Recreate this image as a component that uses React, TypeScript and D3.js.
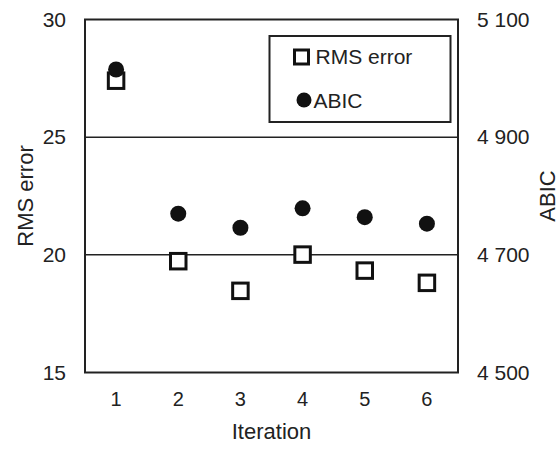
import React from 'react';
import * as d3 from 'd3';

const iterations = ['1', '2', '3', '4', '5', '6'];
const rmsError = [27.4, 19.73, 18.47, 20.01, 19.33, 18.81];
const abic = [5015, 4770, 4746, 4779, 4764, 4753];
const leftTicks = [15, 20, 25, 30];
const rightTicks = [4500, 4700, 4900, 5100];

const W = 560;
const H = 450;
const margin = { top: 19.5, right: 102, bottom: 77.5, left: 85 };
const FONT = 'Liberation Sans, Arial, sans-serif';
const INK = '#222';

// "4900" -> "4 900"
const fmtAbic = (v: number) => {
  const s = String(v);
  return s.slice(0, s.length - 3) + ' ' + s.slice(-3);
};

export default function App() {
  const width = W - margin.left - margin.right;
  const height = H - margin.top - margin.bottom;

  const x = d3.scaleBand().domain(iterations).range([0, width]);
  const yLeft = d3.scaleLinear().domain([15, 30]).range([height, 0]);
  const yRight = d3.scaleLinear().domain([4500, 5100]).range([height, 0]);
  const cx = (d: string) => (x(d) ?? 0) + x.bandwidth() / 2;

  const sq = 15.5;

  return (
    <svg width={W} height={H} style={{ position: 'absolute', left: 0, top: 0, background: '#fff' }}
      fontFamily={FONT}>
      <g transform={`translate(${margin.left},${margin.top})`}>
        {/* gridlines */}
        {[20, 25].map(t => (
          <line key={t} x1={0} x2={width} y1={yLeft(t)} y2={yLeft(t)} stroke={INK} strokeWidth={1.5} />
        ))}
        {/* frame */}
        <rect x={0} y={0} width={width} height={height} fill="none" stroke={INK} strokeWidth={2} />

        {/* left ticks */}
        {leftTicks.map(t => (
          <text key={t} x={-19} y={yLeft(t)} dy="0.34em" textAnchor="end" fontSize={21} fill={INK}>{t}</text>
        ))}
        {/* right ticks */}
        {rightTicks.map(t => (
          <text key={t} x={width + 19} y={yRight(t)} dy="0.34em" textAnchor="start" fontSize={21} fill={INK}>{fmtAbic(t)}</text>
        ))}
        {/* x ticks */}
        {iterations.map(d => (
          <text key={d} x={cx(d)} y={height + 33.5} textAnchor="middle" fontSize={20} fill={INK}>{d}</text>
        ))}

        {/* axis titles */}
        <text x={width / 2} y={height + 66.5} textAnchor="middle" fontSize={22} fill={INK}>Iteration</text>
        <text transform={`translate(${-52},${height / 2}) rotate(-90)`} textAnchor="middle" fontSize={22} fill={INK}>RMS error</text>
        <text transform={`translate(${width + 97},${height / 2}) rotate(-90)`} textAnchor="middle" fontSize={22} fill={INK}>ABIC</text>

        {/* RMS error squares */}
        {iterations.map((d, i) => (
          <rect key={'s' + d} x={cx(d) - sq / 2} y={yLeft(rmsError[i]) - sq / 2} width={sq} height={sq}
            fill="#fff" stroke="#111" strokeWidth={3} />
        ))}
        {/* ABIC dots */}
        {iterations.map((d, i) => (
          <circle key={'c' + d} cx={cx(d)} cy={yRight(abic[i])} r={8} fill="#111" />
        ))}

        {/* legend */}
        <g transform={`translate(${269.5 - margin.left},${36 - margin.top})`}>
          <rect x={0} y={0} width={181} height={86} fill="#fff" stroke={INK} strokeWidth={2} />
          <rect x={25} y={14} width={14} height={14} fill="#fff" stroke="#111" strokeWidth={3} />
          <text x={46} y={28} fontSize={21} fill={INK}>RMS error</text>
          <circle cx={34.5} cy={64} r={7.5} fill="#111" />
          <text x={44} y={72} fontSize={21} fill={INK}>ABIC</text>
        </g>
      </g>
    </svg>
  );
}
